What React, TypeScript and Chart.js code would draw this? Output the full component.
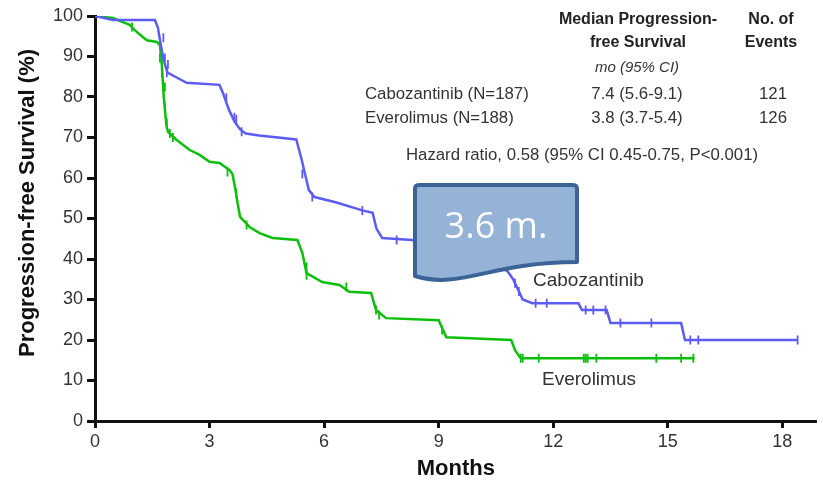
import React, { useEffect, useRef } from "react";
import { Chart, registerables } from "chart.js";

Chart.register(...registerables);

// Axis ticks
const monthTicks = [0, 3, 6, 9, 12, 15, 18];
const pfsTicks = [0, 10, 20, 30, 40, 50, 60, 70, 80, 90, 100];

// Kaplan–Meier curve vertices: Cabozantinib (N=187)
const caboMonths = [0, 0.47, 1.57, 1.65, 1.72, 1.8, 1.9, 2.1, 2.4, 3.26, 3.35, 3.5, 3.65, 3.8, 3.95, 4.3, 5.27, 5.4, 5.5, 5.6, 5.75, 6.3, 7.0, 7.27, 7.37, 7.52, 8.3, 9.0, 9.8, 10.4, 10.8, 10.95, 11.1, 11.2, 11.45, 12.66, 12.75, 13.4, 13.5, 15.35, 15.45, 18.4];
const caboPfs = [100, 99, 99, 97, 93, 89, 86, 85, 83.5, 83, 81, 77, 74, 72, 71, 70.5, 69.5, 65, 61, 57, 55.3, 54, 52, 51.4, 47.5, 45.2, 44.7, 43, 41, 39, 37, 35, 32, 30, 29.1, 29.1, 27.4, 27.4, 24.2, 24.2, 20, 20];

// Kaplan–Meier curve vertices: Everolimus (N=188)
const everoMonths = [0, 0.47, 0.73, 0.91, 1.04, 1.25, 1.36, 1.62, 1.7, 1.75, 1.8, 1.87, 1.91, 2.14, 2.48, 2.74, 3.0, 3.26, 3.52, 3.6, 3.68, 3.73, 3.8, 4.05, 4.31, 4.65, 5.3, 5.43, 5.54, 5.95, 6.4, 6.66, 7.23, 7.36, 7.62, 9.0, 9.2, 10.9, 11.0, 11.15, 15.7];
const everoPfs = [100, 99.5, 98.5, 97.8, 96.5, 94.8, 94, 93.6, 92.8, 88, 80, 73, 71.4, 69.4, 66.9, 65.7, 64, 63.7, 62, 61, 57, 54, 50.4, 47.9, 46.4, 45.2, 44.7, 41.5, 36.5, 34.3, 33.6, 31.9, 31.6, 27.4, 25.4, 24.9, 20.7, 20, 17.5, 15.5, 15.5];

// Censoring marks (month, %)
const caboCensorMonths = [1.79, 1.83, 1.88, 1.91, 3.44, 3.65, 3.7, 3.84, 5.43, 5.69, 7.0, 7.9, 11.0, 11.1, 11.54, 11.83, 12.85, 13.05, 13.37, 13.76, 14.57, 15.59, 15.8, 18.4];
const caboCensorPfs = [94.6, 89.6, 86, 88, 79.8, 75, 74.5, 71.4, 61, 55.3, 52, 44.7, 34, 32, 29.1, 29.1, 27.4, 27.4, 27.4, 24.2, 24.2, 20, 20, 20];
const everoCensorMonths = [0.97, 1.7, 1.75, 1.83, 1.83, 1.88, 1.96, 2.04, 3.47, 3.7, 3.97, 5.54, 5.54, 6.58, 7.36, 7.44, 9.09, 11.15, 11.2, 11.62, 12.8, 12.85, 12.9, 13.13, 14.7, 15.35, 15.67];
const everoCensorPfs = [97.3, 89.6, 86, 82.5, 77.5, 73.6, 71, 70, 61.5, 56.3, 48.4, 38, 36, 33.1, 27.4, 26.2, 22.5, 15.5, 15.5, 15.5, 15.5, 15.5, 15.5, 15.5, 15.5, 15.5, 15.5];

const CABO_COLOR = "#5c5cf5";
const EVERO_COLOR = "#0cbf0c";
const TEXT_COLOR = "#333333";

const toPoints = (xs: number[], ys: number[]) => xs.map((x, i) => ({ x, y: ys[i] }));

const annotationPlugin = {
  id: "pfsAnnotations",
  afterDatasetsDraw(chart: any) {
    const ctx: CanvasRenderingContext2D = chart.ctx;
    ctx.save();

    // summary table
    ctx.fillStyle = "#222222";
    ctx.textBaseline = "middle";
    ctx.textAlign = "center";
    ctx.font = "bold 16px 'Liberation Sans', Arial, sans-serif";
    ctx.fillText("Median Progression-", 638, 20);
    ctx.fillText("free Survival", 638, 43);
    ctx.fillText("No. of", 771, 20);
    ctx.fillText("Events", 771, 43);
    ctx.font = "italic 15px 'Liberation Sans', Arial, sans-serif";
    ctx.fillStyle = TEXT_COLOR;
    ctx.fillText("mo (95% CI)", 637, 68);

    ctx.font = "16.8px 'Liberation Sans', Arial, sans-serif";
    ctx.textAlign = "left";
    ctx.fillText("Cabozantinib (N=187)", 365, 94);
    ctx.fillText("Everolimus (N=188)", 365, 118);
    ctx.textAlign = "center";
    ctx.fillText("7.4 (5.6-9.1)", 637, 94);
    ctx.fillText("3.8 (3.7-5.4)", 637, 118);
    ctx.fillText("121", 773, 94);
    ctx.fillText("126", 773, 118);
    ctx.fillText("Hazard ratio, 0.58 (95% CI 0.45-0.75, P<0.001)", 582, 155);

    // curve labels
    ctx.textAlign = "left";
    ctx.font = "19px 'Liberation Sans', Arial, sans-serif";
    ctx.fillText("Cabozantinib", 533, 281);
    ctx.fillText("Everolimus", 542, 380);

    // callout
    ctx.beginPath();
    ctx.moveTo(415, 276);
    ctx.lineTo(415, 189);
    ctx.quadraticCurveTo(415, 185, 419, 185);
    ctx.lineTo(573, 185);
    ctx.quadraticCurveTo(577, 185, 577, 189);
    ctx.lineTo(577, 262);
    ctx.bezierCurveTo(490, 262, 460, 290, 415, 276);
    ctx.closePath();
    ctx.fillStyle = "#95b3d7";
    ctx.fill();
    ctx.lineWidth = 4;
    ctx.strokeStyle = "#3b6395";
    ctx.lineJoin = "round";
    ctx.stroke();

    ctx.fillStyle = "#ffffff";
    ctx.font = "36px 'Open Sans', sans-serif";
    ctx.textAlign = "center";
    ctx.textBaseline = "alphabetic";
    ctx.fillText("3.6 m.", 496, 238);

    // y axis title
    ctx.translate(28, 203);
    ctx.rotate(-Math.PI / 2);
    ctx.fillStyle = "#111111";
    ctx.font = "bold 22px 'Liberation Sans', Arial, sans-serif";
    ctx.textAlign = "center";
    ctx.textBaseline = "middle";
    ctx.fillText("Progression-free Survival (%)", 0, 0);

    ctx.restore();
  },
};

export default function App() {
  const canvasRef = useRef<HTMLCanvasElement | null>(null);

  useEffect(() => {
    const canvas = canvasRef.current;
    if (!canvas) return;

    const tickFont = { family: "'Liberation Sans', Arial, sans-serif", size: 18 };

    const chart = new Chart(canvas, {
      type: "line",
      data: {
        datasets: [
          {
            label: "Cabozantinib",
            data: toPoints(caboMonths, caboPfs),
            borderColor: CABO_COLOR,
            borderWidth: 2.5,
            pointRadius: 0,
            tension: 0,
          },
          {
            label: "Everolimus",
            data: toPoints(everoMonths, everoPfs),
            borderColor: EVERO_COLOR,
            borderWidth: 2.5,
            pointRadius: 0,
            tension: 0,
          },
          {
            label: "Cabozantinib censored",
            data: toPoints(caboCensorMonths, caboCensorPfs),
            showLine: false,
            pointStyle: "line",
            rotation: 90,
            pointRadius: 4.5,
            borderColor: CABO_COLOR,
            backgroundColor: CABO_COLOR,
            borderWidth: 1.8,
          },
          {
            label: "Everolimus censored",
            data: toPoints(everoCensorMonths, everoCensorPfs),
            showLine: false,
            pointStyle: "line",
            rotation: 90,
            pointRadius: 4.5,
            borderColor: EVERO_COLOR,
            backgroundColor: EVERO_COLOR,
            borderWidth: 1.8,
          },
        ],
      },
      options: {
        responsive: false,
        maintainAspectRatio: false,
        animation: false,
        devicePixelRatio: 1,
        layout: { padding: { top: 16, right: 4, left: 0, bottom: 0 } },
        plugins: {
          legend: { display: false },
          tooltip: { enabled: false },
        },
        scales: {
          x: {
            type: "linear",
            min: 0,
            max: 18.9,
            afterBuildTicks: (scale: any) => {
              scale.ticks = monthTicks.map((value) => ({ value }));
            },
            afterFit: (scale: any) => {
              scale.height = 62;
            },
            ticks: { font: tickFont, color: TEXT_COLOR, padding: 3, maxRotation: 0 },
            grid: {
              drawOnChartArea: false,
              drawTicks: true,
              tickLength: 7,
              tickWidth: 3,
              color: "#111111",
            },
            border: { display: true, width: 3, color: "#111111" },
            title: {
              display: true,
              text: "Months",
              color: "#111111",
              font: { family: "'Liberation Sans', Arial, sans-serif", size: 22, weight: "bold" },
              padding: { top: 0, bottom: 1 },
            },
          },
          y: {
            type: "linear",
            min: 0,
            max: 100,
            afterBuildTicks: (scale: any) => {
              scale.ticks = pfsTicks.map((value) => ({ value }));
            },
            afterFit: (scale: any) => {
              scale.width = 95;
            },
            ticks: { font: tickFont, color: TEXT_COLOR, padding: 4 },
            grid: {
              drawOnChartArea: false,
              drawTicks: true,
              tickLength: 8,
              tickWidth: 3,
              color: "#111111",
            },
            border: { display: true, width: 3, color: "#111111" },
          },
        },
      },
      plugins: [annotationPlugin],
    } as any);

    return () => chart.destroy();
  }, []);

  return (
    <div style={{ position: "fixed", left: 0, top: 0, width: 823, height: 483, background: "#ffffff" }}>
      <canvas ref={canvasRef} width={823} height={483} />
    </div>
  );
}
